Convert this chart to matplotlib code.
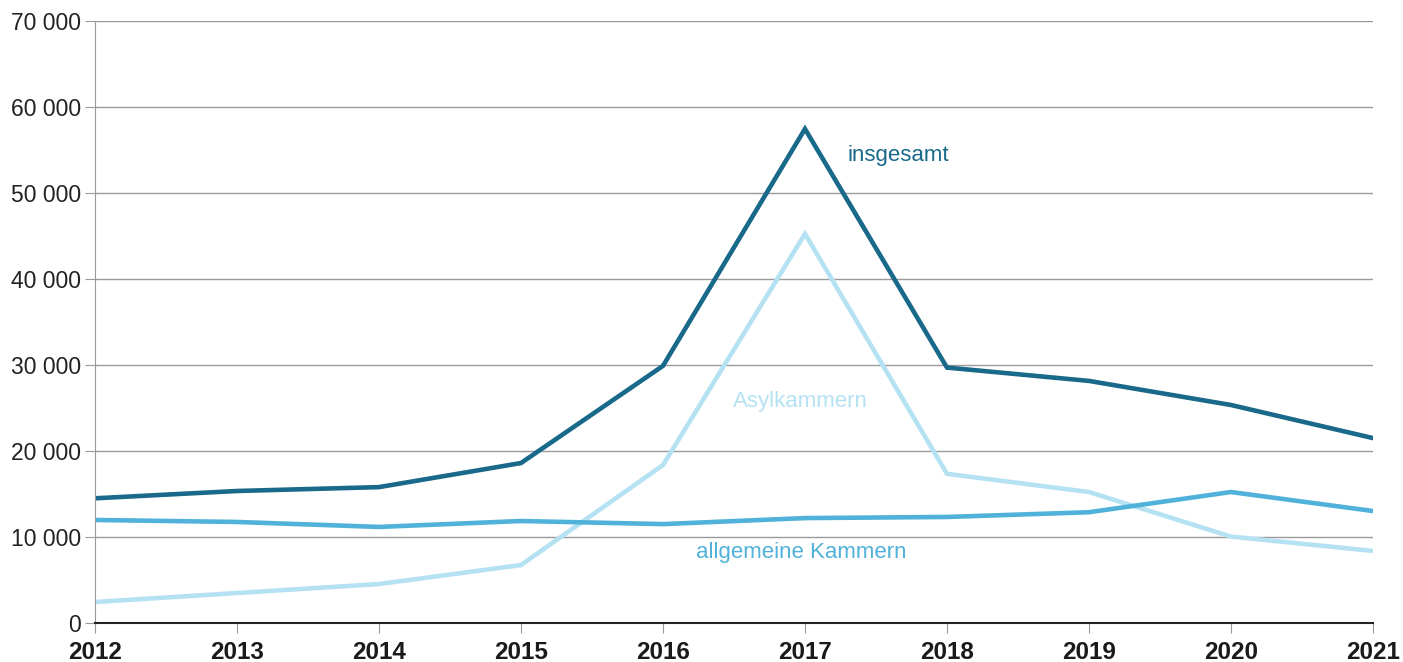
import matplotlib.pyplot as plt
from matplotlib.ticker import FuncFormatter

plt.rcParams['font.family'] = ['Liberation Sans', 'DejaVu Sans']

years = list(range(2012, 2022))
insgesamt = [14500, 15350, 15800, 18600, 29900, 57450, 29700, 28150, 25350, 21500]
allgemeine = [11980, 11750, 11170, 11860, 11500, 12200, 12330, 12880, 15230, 13020]
asyl = [2440, 3490, 4530, 6740, 18370, 45250, 17350, 15230, 10050, 8380]

c_ges = '#19698a'
c_allg = '#50b2da'
c_asyl = '#b5e2f3'

fig = plt.figure(figsize=(14.03, 6.62), dpi=100)
ax = fig.add_axes([0.0677, 0.0589, 0.9109, 0.9094])

ax.plot(years, asyl, color=c_asyl, lw=3.3, solid_joinstyle='miter')
ax.plot(years, allgemeine, color=c_allg, lw=3.3, solid_joinstyle='miter')
ax.plot(years, insgesamt, color=c_ges, lw=3.3, solid_joinstyle='miter')

ax.set_xlim(2012, 2021)
ax.set_ylim(0, 70000)
ax.set_xticks(years)
ax.set_yticks(range(0, 70001, 10000))
ax.yaxis.set_major_formatter(FuncFormatter(lambda v, p: f'{int(v):,}'.replace(',', ' ')))
ax.grid(axis='y', color='#9a9a9a', lw=1)
ax.set_axisbelow(True)

for s in ['top', 'right']:
    ax.spines[s].set_visible(False)
ax.spines['left'].set_color('#9a9a9a')
ax.spines['bottom'].set_color('#222222')
ax.spines['bottom'].set_linewidth(1.5)

ax.tick_params(axis='y', length=7, color='#9a9a9a', labelsize=16.5, pad=3, labelcolor='#222222')
ax.tick_params(axis='x', length=7, color='#9a9a9a', labelsize=17.5, pad=6, labelcolor='#1a1a1a')
for lbl in ax.get_xticklabels():
    lbl.set_fontweight('bold')

ax.text(2017.30, 54400, 'insgesamt', color=c_ges, fontsize=16, va='center')
ax.text(2016.49, 25800, 'Asylkammern', color=c_asyl, fontsize=16, va='center')
ax.text(2016.23, 8150, 'allgemeine Kammern', color=c_allg, fontsize=16, va='center')

fig.savefig('out.png', dpi=100)
